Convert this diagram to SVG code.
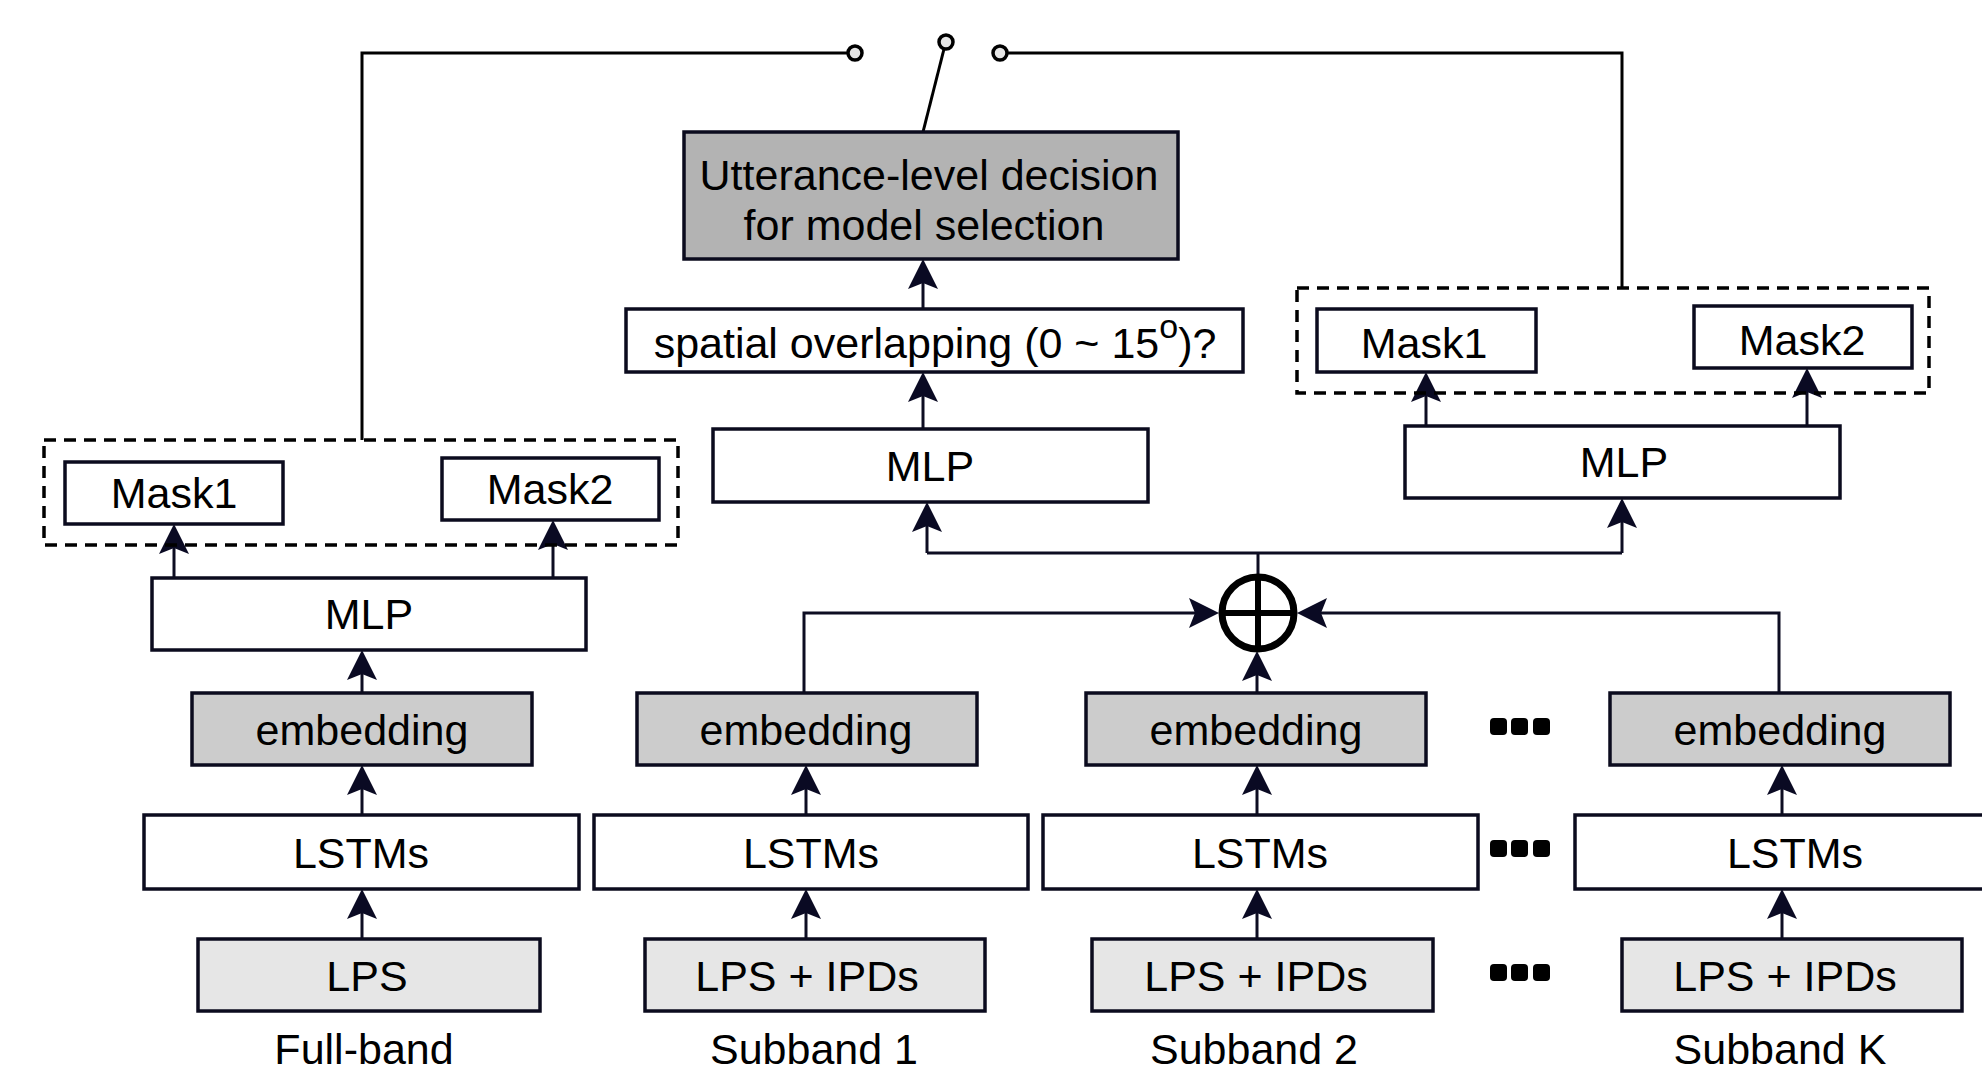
<svg xmlns="http://www.w3.org/2000/svg" width="1982" height="1075" viewBox="0 0 1982 1075">
<defs>
<style>
.t{font-family:"Liberation Sans",Arial,Helvetica,sans-serif;font-size:43px;text-anchor:middle;fill:#000}
.b{stroke:#0b0b1e;stroke-width:3.5;fill:#fff}
.g1{fill:#b3b3b3}
.g2{fill:#cccccc}
.g3{fill:#e6e6e6}
.d{stroke:#000;stroke-width:3.5;fill:none;stroke-dasharray:12 8}
.c{stroke:#0d0d22;stroke-width:3;fill:none}
.a{stroke:#0d0d22;stroke-width:3;fill:none;marker-end:url(#ah)}
.w{stroke:#000;stroke-width:3;fill:none}
.sw{stroke:#000;stroke-width:3.5;fill:#e6e6e6}
.dot{fill:#000}
</style>
<marker id="ah" markerUnits="userSpaceOnUse" orient="auto" refX="0" refY="0" markerWidth="40" markerHeight="40" overflow="visible">
<path d="M20,0 L-10,-15 L-4,0 L-10,15 Z" fill="#0a0a23"/>
</marker>
</defs>
<rect width="1982" height="1075" fill="#fff"/>

<g id="connectors">
<line class="a" x1="362" y1="939" x2="362" y2="909"/>
<line class="a" x1="362" y1="815" x2="362" y2="785"/>
<line class="a" x1="362" y1="693" x2="362" y2="670"/>
<line class="a" x1="174" y1="578" x2="174" y2="544"/>
<line class="a" x1="553" y1="578" x2="553" y2="540"/>
<line class="a" x1="806" y1="939" x2="806" y2="909"/>
<line class="a" x1="806" y1="815" x2="806" y2="785"/>
<path class="a" d="M804,693 V613 H1199"/>
<line class="a" x1="1257" y1="939" x2="1257" y2="909"/>
<line class="a" x1="1257" y1="815" x2="1257" y2="785"/>
<line class="a" x1="1257" y1="693" x2="1257" y2="671"/>
<line class="a" x1="1782" y1="939" x2="1782" y2="909"/>
<line class="a" x1="1782" y1="815" x2="1782" y2="785"/>
<path class="a" d="M1779,693 V613 H1317"/>
<line class="c" x1="1258" y1="575" x2="1258" y2="553"/>
<line class="c" x1="927" y1="553" x2="1622" y2="553"/>
<line class="a" x1="927" y1="553" x2="927" y2="522"/>
<line class="a" x1="1622" y1="553" x2="1622" y2="518"/>
<line class="a" x1="923" y1="429" x2="923" y2="392"/>
<line class="a" x1="923" y1="309" x2="923" y2="279"/>
<line class="a" x1="1426" y1="426" x2="1426" y2="392"/>
<line class="a" x1="1807" y1="426" x2="1807" y2="388"/>
<polyline class="w" points="362,440 362,53 848,53"/>
<polyline class="w" points="1007,53 1622,53 1622,288"/>
<line class="w" x1="944" y1="49" x2="923" y2="132"/>
<circle class="sw" cx="855" cy="53" r="7"/>
<circle class="sw" cx="946" cy="42" r="7"/>
<circle class="sw" cx="1000" cy="53" r="7"/>
</g>

<g id="sum">
<circle cx="1258" cy="613" r="36" fill="#fff" stroke="#000" stroke-width="7"/>
<line x1="1222" y1="613" x2="1294" y2="613" stroke="#000" stroke-width="6"/>
<line x1="1258" y1="577" x2="1258" y2="649" stroke="#000" stroke-width="6"/>
</g>

<g id="utterance">
<rect class="b g1" x="684" y="132" width="494" height="127"/>
<text class="t" x="929" y="190">Utterance-level decision</text>
<text class="t" x="924" y="240">for model selection</text>
</g>
<g id="spatial">
<rect class="b" x="626" y="309" width="617" height="63"/>
<text class="t" x="935" y="358">spatial overlapping (0 ~ 15<tspan font-size="34" dy="-20">o</tspan><tspan dy="20">)?</tspan></text>
</g>
<g id="mlp-center">
<rect class="b" x="713" y="429" width="435" height="73"/>
<text class="t" x="930" y="481">MLP</text>
</g>

<g id="right-masks">
<rect class="d" x="1297" y="288" width="632" height="105"/>
<g id="r-mask1"><rect class="b" x="1317" y="309" width="219" height="63"/><text class="t" x="1424" y="358">Mask1</text></g>
<g id="r-mask2"><rect class="b" x="1694" y="306" width="218" height="62"/><text class="t" x="1802" y="355">Mask2</text></g>
</g>
<g id="mlp-right">
<rect class="b" x="1405" y="426" width="435" height="72"/>
<text class="t" x="1624" y="477">MLP</text>
</g>

<g id="left-masks">
<rect class="d" x="44" y="440" width="634" height="105"/>
<g id="l-mask1"><rect class="b" x="65" y="462" width="218" height="62"/><text class="t" x="174" y="508">Mask1</text></g>
<g id="l-mask2"><rect class="b" x="442" y="458" width="217" height="62"/><text class="t" x="550" y="504">Mask2</text></g>
</g>
<g id="fb-mlp">
<rect class="b" x="152" y="578" width="434" height="72"/>
<text class="t" x="369" y="629">MLP</text>
</g>
<g id="fb-emb">
<rect class="b g2" x="192" y="693" width="340" height="72"/>
<text class="t" x="362" y="745">embedding</text>
</g>
<g id="fb-lstm">
<rect class="b" x="144" y="815" width="435" height="74"/>
<text class="t" x="361" y="868">LSTMs</text>
</g>
<g id="fb-lps">
<rect class="b g3" x="198" y="939" width="342" height="72"/>
<text class="t" x="367" y="991">LPS</text>
</g>

<g id="s1-emb">
<rect class="b g2" x="637" y="693" width="340" height="72"/>
<text class="t" x="806" y="745">embedding</text>
</g>
<g id="s1-lstm">
<rect class="b" x="594" y="815" width="434" height="74"/>
<text class="t" x="811" y="868">LSTMs</text>
</g>
<g id="s1-lps">
<rect class="b g3" x="645" y="939" width="340" height="72"/>
<text class="t" x="807" y="991">LPS + IPDs</text>
</g>

<g id="s2-emb">
<rect class="b g2" x="1086" y="693" width="340" height="72"/>
<text class="t" x="1256" y="745">embedding</text>
</g>
<g id="s2-lstm">
<rect class="b" x="1043" y="815" width="435" height="74"/>
<text class="t" x="1260" y="868">LSTMs</text>
</g>
<g id="s2-lps">
<rect class="b g3" x="1092" y="939" width="341" height="72"/>
<text class="t" x="1256" y="991">LPS + IPDs</text>
</g>

<g id="sk-emb">
<rect class="b g2" x="1610" y="693" width="340" height="72"/>
<text class="t" x="1780" y="745">embedding</text>
</g>
<g id="sk-lstm">
<rect class="b" x="1575" y="815" width="435" height="74"/>
<text class="t" x="1795" y="868">LSTMs</text>
</g>
<g id="sk-lps">
<rect class="b g3" x="1622" y="939" width="340" height="72"/>
<text class="t" x="1785" y="991">LPS + IPDs</text>
</g>

<g id="ellipsis">
<rect class="dot" x="1490" y="718" width="17" height="17" rx="4"/>
<rect class="dot" x="1511" y="718" width="17" height="17" rx="4"/>
<rect class="dot" x="1533" y="718" width="17" height="17" rx="4"/>
<rect class="dot" x="1490" y="840" width="17" height="17" rx="4"/>
<rect class="dot" x="1511" y="840" width="17" height="17" rx="4"/>
<rect class="dot" x="1533" y="840" width="17" height="17" rx="4"/>
<rect class="dot" x="1490" y="964" width="17" height="17" rx="4"/>
<rect class="dot" x="1511" y="964" width="17" height="17" rx="4"/>
<rect class="dot" x="1533" y="964" width="17" height="17" rx="4"/>
</g>

<g id="labels">
<text class="t" x="364" y="1064">Full-band</text>
<text class="t" x="814" y="1064">Subband 1</text>
<text class="t" x="1254" y="1064">Subband 2</text>
<text class="t" x="1780" y="1064">Subband K</text>
</g>
</svg>
